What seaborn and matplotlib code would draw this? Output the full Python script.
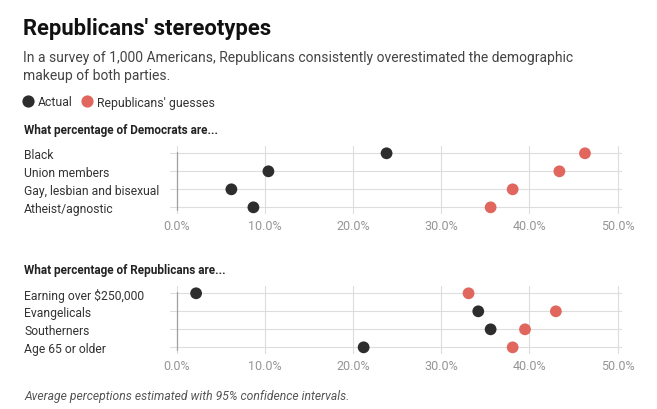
import matplotlib
matplotlib.use("Agg")
import matplotlib.pyplot as plt
import seaborn as sns
import pandas as pd
from matplotlib.ticker import FuncFormatter

# ---------------- data ----------------
dem_categories = ["Black", "Union members", "Gay, lesbian and bisexual", "Atheist/agnostic"]
dem_actual = [23.8, 10.4, 6.2, 8.7]
dem_guess = [46.3, 43.4, 38.1, 35.6]

rep_categories = ["Earning over $250,000", "Evangelicals", "Southerners", "Age 65 or older"]
rep_actual = [2.2, 34.2, 35.6, 21.2]
rep_guess = [33.1, 43.0, 39.5, 38.1]

series_names = ["Actual", "Republicans' guesses"]
x_ticks = [0, 10, 20, 30, 40, 50]

title = "Republicans' stereotypes"
subtitle_lines = ["In a survey of 1,000 Americans, Republicans consistently overestimated the demographic",
                  "makeup of both parties."]
dem_header = "What percentage of Democrats are..."
rep_header = "What percentage of Republicans are..."
footnote = "Average perceptions estimated with 95% confidence intervals."

# ---------------- style ----------------
DARK = "#2d2d2d"
RED = "#e1675e"
GRID = "#dddddd"
palette = {series_names[0]: DARK, series_names[1]: RED}

sns.set_style("white")
plt.rcParams["font.family"] = ["Roboto", "DejaVu Sans"]

W, H = 657, 410
fig = plt.figure(figsize=(W / 100, H / 100), dpi=100)


def fx(px):
    return px / W


def fy(py):
    return 1 - py / H


def make_df(cats, actual, guess):
    return pd.DataFrame({
        "category": cats * 2,
        "value": actual + guess,
        "series": [series_names[0]] * len(cats) + [series_names[1]] * len(cats),
    })


def panel(ax, cats, actual, guess, legend=False):
    df = make_df(cats, actual, guess)
    sns.scatterplot(data=df, x="value", y="category", hue="series", palette=palette,
                    s=72, edgecolor="none", ax=ax, legend=legend, zorder=3)
    ax.set_xlim(-0.76, 50.5)
    ax.set_ylim(len(cats) - 1 + 0.37, -0.405)
    ax.set_xticks(x_ticks)
    ax.xaxis.set_major_formatter(FuncFormatter(lambda v, p: f"{v:.1f}%"))
    ax.grid(True, axis="both", color=GRID, linewidth=0.8, zorder=0)
    ax.axvline(0, ymin=0.06, ymax=0.91, color="#a0a0a0", linewidth=0.9, zorder=1)
    for sp in ax.spines.values():
        sp.set_visible(False)
    ax.set_xlabel("")
    ax.set_ylabel("")
    ax.tick_params(axis="x", length=0, pad=3.5, labelsize=9, labelcolor="#959595")
    ax.tick_params(axis="y", length=0, pad=105, labelsize=8.7, labelcolor="#333333")
    for lab in ax.get_yticklabels():
        lab.set_horizontalalignment("left")
    ax.set_facecolor("white")


ax1 = fig.add_axes([fx(170), fy(215), fx(452), 68 / H])
panel(ax1, dem_categories, dem_actual, dem_guess, legend=True)
handles, labels = ax1.get_legend_handles_labels()
ax1.get_legend().remove()

ax2 = fig.add_axes([fx(170), fy(355), fx(452), 68 / H])
panel(ax2, rep_categories, rep_actual, rep_guess)

# legend
for h in handles:
    try:
        h.set_markersize(8.8)
    except Exception:
        pass
leg = fig.legend(handles, labels, loc="center left", bbox_to_anchor=(fx(23), fy(103)),
                 ncol=2, frameon=False, fontsize=8.8, handlelength=0.75, handletextpad=0.45,
                 columnspacing=0.85, borderpad=0, borderaxespad=0)
for t in leg.get_texts():
    t.set_color("#333333")

# texts
fig.text(fx(23), fy(35), title, fontsize=15.8, fontweight="bold", color="#111111", va="baseline")
fig.text(fx(23), fy(62.3), subtitle_lines[0], fontsize=10.0, color="#444444", va="baseline")
fig.text(fx(23), fy(80.5), subtitle_lines[1], fontsize=10.0, color="#444444", va="baseline")
fig.text(fx(24), fy(134.3), dem_header, fontsize=8.5, fontweight="bold", color="#222222", va="baseline")
fig.text(fx(24), fy(274.3), rep_header, fontsize=8.5, fontweight="bold", color="#222222", va="baseline")
fig.text(fx(24), fy(400.5), footnote, fontsize=8.75, style="italic", color="#555555", va="baseline")

fig.savefig("out.png", dpi=100, facecolor="white")
